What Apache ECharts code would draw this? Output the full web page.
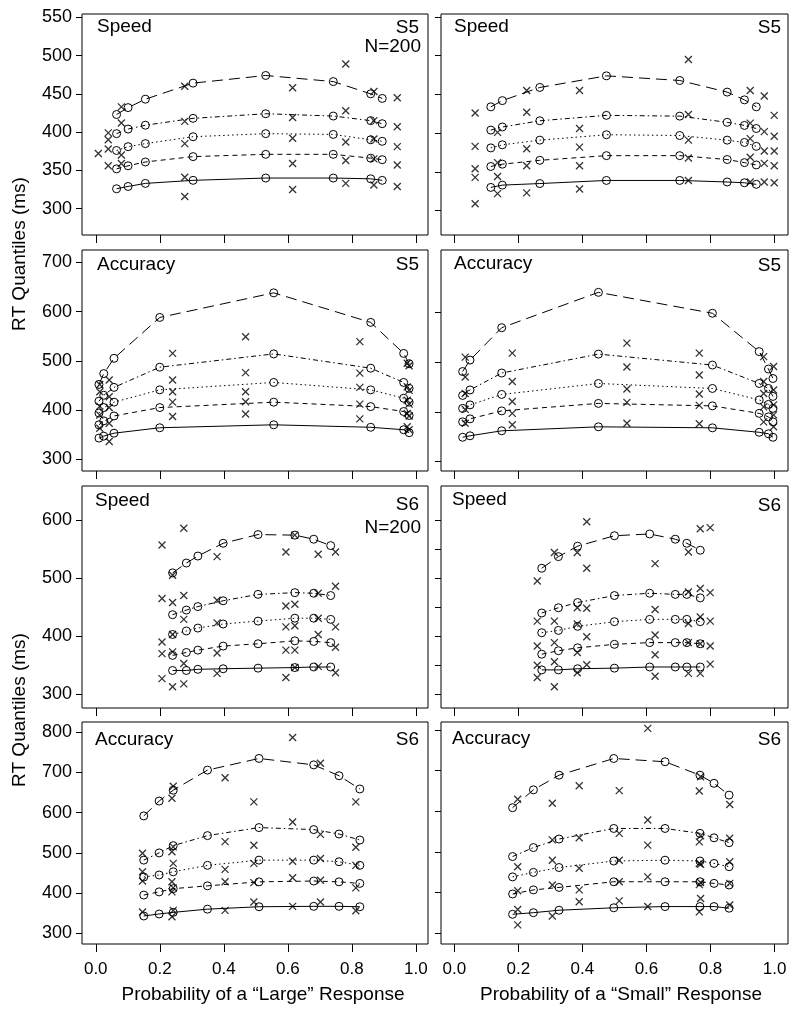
<!DOCTYPE html>
<html><head><meta charset="utf-8">
<script src="https://cdn.jsdelivr.net/npm/echarts@6/dist/echarts.min.js"></script>
<style>html,body{margin:0;padding:0;background:#fff}#c{width:800px;height:1012px}</style>
</head><body><div id="c"></div>
<script>
// ---------- tick labels ----------
const xTicks = [0, 0.2, 0.4, 0.6, 0.8, 1.0];
const yTicksR1 = [300, 350, 400, 450, 500, 550];
const yTicksR2L = [300, 400, 500, 600, 700];
const yTicksR2R = [300, 400, 500, 600];
const yTicksR3L = [300, 400, 500, 600];
const yTicksR3R = [300, 350, 400, 450, 500, 550, 600];
const yTicksR4 = [300, 400, 500, 600, 700, 800];

// ---------- Panel 1: Speed S5, "Large" ----------
const s5SpdL_mx = [0.065, 0.101, 0.155, 0.304, 0.531, 0.742, 0.859, 0.895];
const s5SpdL_m = [
  [326, 329, 333, 337, 340, 340, 339, 337],
  [352, 356, 361, 368, 371, 371, 366, 364],
  [376, 381, 385, 394, 398, 397, 390, 388],
  [398, 404, 409, 418, 424, 421, 415, 411],
  [423, 432, 443, 464, 474, 466, 450, 444]
];
const s5SpdL_dx = [0.008, 0.039, 0.08, 0.278, 0.615, 0.781, 0.869, 0.942];
const s5SpdL_d = [
  [null, 356, 359, 316, 325, 333, 331, 329],
  [null, 378, 370, 341, 359, 363, 365, 357],
  [372, 390, null, 385, 392, 387, 391, 381],
  [null, 399, 412, 414, 419, 428, 415, 407],
  [null, null, 433, 460, 458, 489, 453, 445]
];

// ---------- Panel 2: Speed S5, "Small" ----------
const s5SpdS_mx = [0.114, 0.150, 0.267, 0.475, 0.704, 0.852, 0.906, 0.943];
const s5SpdS_m = [
  [330, 333, 335, 339, 339, 337, 336, 334],
  [357, 360, 365, 371, 371, 366, 362, 359],
  [381, 385, 391, 398, 397, 391, 388, 383],
  [404, 408, 416, 423, 422, 414, 410, 406],
  [434, 442, 459, 474, 468, 453, 443, 434]
];
const s5SpdS_dx = [0.065, 0.135, 0.226, 0.391, 0.731, 0.924, 0.968, 0.999];
const s5SpdS_d = [
  [309, 322, 323, 328, 339, 337, 337, 336],
  [343, 344, 358, 358, 368, 369, 361, 358],
  [354, 362, 380, 382, 391, 393, 377, 377],
  [383, 401, 427, 406, 424, 413, 402, 396],
  [426, null, 455, 455, 495, 455, 448, 423]
];

// ---------- Panel 3: Accuracy S5, "Large" ----------
const s5AccL_mx = [0.010, 0.025, 0.057, 0.200, 0.556, 0.859, 0.962, 0.979];
const s5AccL_m = [
  [343, 347, 353, 364, 370, 365, 360, 354],
  [370, 378, 388, 405, 416, 407, 397, 389],
  [394, 405, 416, 441, 456, 441, 424, 416],
  [418, 430, 446, 487, 514, 485, 456, 444],
  [452, 474, 505, 588, 638, 578, 515, 494]
];
const s5AccL_dx = [0.0125, 0.042, 0.240, 0.468, 0.825, 0.973, 0.979];
const s5AccL_d = [
  [363, 336, 387, 392, 382, 366, 360],
  [390, 373, 416, 417, 412, 393, 388],
  [408, 405, 437, 437, 446, 420, 412],
  [437, 427, 461, 476, 475, 447, 440],
  [452, 461, 515, 549, 539, 495, 490]
];

// ---------- Panel 4: Accuracy S5, "Small" ----------
const s5AccS_mx = [0.026, 0.049, 0.148, 0.450, 0.806, 0.952, 0.981, 0.995];
const s5AccS_m = [
  [349, 352, 362, 370, 368, 359, 356, 349],
  [380, 386, 402, 417, 412, 397, 390, 380],
  [407, 414, 435, 457, 447, 424, 415, 407],
  [433, 444, 478, 516, 494, 457, 447, 431],
  [481, 504, 569, 640, 598, 521, 486, 467]
];
const s5AccS_dx = [0.034, 0.181, 0.539, 0.765, 0.966, 0.997];
const s5AccS_d = [
  [377, 374, 377, 376, 380, 370],
  [405, 397, 419, 413, 410, 394],
  [437, 421, 446, 436, 437, 414],
  [470, 461, 490, 474, 461, 444],
  [510, 518, 538, 518, 511, 491]
];

// ---------- Panel 5: Speed S6, "Large" ----------
const s6SpdL_mx = [0.240, 0.283, 0.319, 0.398, 0.507, 0.622, 0.681, 0.734];
const s6SpdL_m = [
  [341, 341, 343, 344, 345, 346, 347, 347],
  [367, 372, 376, 383, 387, 392, 391, 389],
  [403, 409, 414, 421, 426, 431, 431, 429],
  [437, 445, 451, 461, 472, 475, 474, 470],
  [509, 526, 538, 560, 575, 574, 567, 556]
];
const s6SpdL_dx = [0.207, 0.240, 0.275, 0.379, 0.594, 0.622, 0.695, 0.749];
const s6SpdL_d = [
  [327, 313, 318, 336, 329, 346, 348, 337],
  [370, 373, 353, 371, 376, 376, 403, 381],
  [390, 403, 429, 423, 416, 418, 431, 416],
  [465, 458, 470, 462, 452, 455, 474, 486],
  [557, 505, 586, 537, 545, 574, 541, 545]
];

// ---------- Panel 6: Speed S6, "Small" ----------
const s6SpdS_mx = [0.273, 0.325, 0.385, 0.500, 0.610, 0.690, 0.726, 0.768];
const s6SpdS_m = [
  [342, 342, 344, 345, 347, 347, 347, 347],
  [369, 375, 380, 386, 389, 389, 389, 387],
  [406, 410, 417, 425, 429, 429, 429, 425],
  [440, 449, 458, 470, 474, 472, 472, 466],
  [517, 537, 555, 573, 576, 567, 560, 548]
];
const s6SpdS_dx = [0.259, 0.3125, 0.384, 0.4135, 0.627, 0.731, 0.768, 0.799];
const s6SpdS_d = [
  [329, 313, 337, 351, 331, 336, 336, 352],
  [350, 356, 372, 399, 368, 389, 387, 383],
  [383, 389, 421, 448, 402, 422, 433, 426],
  [426, 426, 449, 517, 446, 476, 482, 475],
  [495, 544, 544, 597, 525, 545, 585, 587]
];

// ---------- Panel 7: Accuracy S6, "Large" ----------
const s6AccL_mx = [0.150, 0.198, 0.242, 0.349, 0.510, 0.681, 0.760, 0.825];
const s6AccL_m = [
  [343, 348, 352, 360, 366, 367, 367, 366],
  [395, 403, 411, 418, 428, 430, 428, 424],
  [440, 445, 453, 469, 482, 482, 478, 469],
  [482, 500, 518, 543, 563, 558, 547, 532],
  [592, 629, 656, 706, 735, 719, 692, 659]
];
const s6AccL_dx = [0.146, 0.238, 0.242, 0.404, 0.494, 0.615, 0.702, 0.8125];
const s6AccL_d = [
  [353, 341, 357, 357, 378, 367, 378, 356],
  [430, 403, 413, 428, 426, 438, 432, 413],
  [453, 428, 474, 459, 474, 479, 486, 469],
  [499, 503, 515, 528, 519, 577, 546, 514],
  [null, 636, 666, 687, 627, 787, 723, 627]
];

// ---------- Panel 8: Accuracy S6, "Small" ----------
const s6AccS_mx = [0.182, 0.247, 0.327, 0.498, 0.658, 0.767, 0.811, 0.858];
const s6AccS_m = [
  [347, 351, 357, 363, 366, 366, 366, 362],
  [397, 407, 413, 427, 427, 427, 423, 419],
  [439, 450, 462, 478, 480, 478, 472, 464],
  [489, 511, 532, 558, 558, 546, 535, 523],
  [609, 653, 689, 730, 722, 689, 669, 640]
];
const s6AccS_dx = [0.198, 0.306, 0.390, 0.515, 0.604, 0.765, 0.769, 0.860];
const s6AccS_d = [
  [321, 343, 378, 380, 366, 353, 386, 370],
  [359, 419, 407, 427, 439, 420, 425, 423],
  [405, 480, 460, 480, 517, 472, 470, 476],
  [464, 530, 535, 546, 579, 525, 540, 534],
  [630, 620, 663, 651, 804, 650, 685, 617]
];

// ---------- layout ----------
const FONT = '"Liberation Sans", Arial, Helvetica, sans-serif';
const L = {left: 82, width: 346, xmin: -0.043, xmax: 1.038};
const R = {left: 441, width: 347, xmin: -0.0416, xmax: 1.042};
const rows = [
  {top: 14, height: 221},
  {top: 250, height: 221},
  {top: 486, height: 222},
  {top: 722, height: 222}
];
const panels = [
  {col: L, row: 0, mx: s5SpdL_mx, m: s5SpdL_m, dx: s5SpdL_dx, d: s5SpdL_d, ymin: 265.6, ymax: 554.3, yt: yTicksR1},
  {col: R, row: 0, mx: s5SpdS_mx, m: s5SpdS_m, dx: s5SpdS_dx, d: s5SpdS_d, ymin: 268.6, ymax: 553.8, yt: yTicksR1},
  {col: L, row: 1, mx: s5AccL_mx, m: s5AccL_m, dx: s5AccL_dx, d: s5AccL_d, ymin: 276.2, ymax: 725, yt: yTicksR2L},
  {col: R, row: 1, mx: s5AccS_mx, m: s5AccS_m, dx: s5AccS_dx, d: s5AccS_d, ymin: 281.3, ymax: 725, yt: yTicksR2R},
  {col: L, row: 2, mx: s6SpdL_mx, m: s6SpdL_m, dx: s6SpdL_dx, d: s6SpdL_d, ymin: 276.4, ymax: 658.6, yt: yTicksR3L},
  {col: R, row: 2, mx: s6SpdS_mx, m: s6SpdS_m, dx: s6SpdS_dx, d: s6SpdS_d, ymin: 276.4, ymax: 658.6, yt: yTicksR3R},
  {col: L, row: 3, mx: s6AccL_mx, m: s6AccL_m, dx: s6AccL_dx, d: s6AccL_d, ymin: 273.3, ymax: 825.7, yt: yTicksR4},
  {col: R, row: 3, mx: s6AccS_mx, m: s6AccS_m, dx: s6AccS_dx, d: s6AccS_d, ymin: 274, ymax: 819.7, yt: yTicksR4}
];
// line styles for quantiles .1 .3 .5 .7 .9
const dashes = ['solid', [5, 4], [1.5, 3], [5, 3, 1.5, 3], [11, 6]];

const grid = [], xAxis = [], yAxis = [], series = [];
panels.forEach((p, i) => {
  const r = rows[p.row];
  grid.push({left: p.col.left, top: r.top, width: p.col.width, height: r.height,
    show: true, borderColor: '#000', borderWidth: 1, backgroundColor: 'transparent'});
  const bottomRow = p.row === 3;
  xAxis.push({type: 'value', gridIndex: i, position: 'bottom', min: p.col.xmin, max: p.col.xmax,
    axisLine: {show: false, onZero: false}, splitLine: {show: false}, minorTick: {show: false},
    axisTick: {show: true, inside: false, customValues: xTicks, length: 8, lineStyle: {color: '#000', width: 1}},
    axisLabel: {show: bottomRow, inside: false, customValues: xTicks, margin: 17, fontSize: 17, color: '#000', fontFamily: FONT,
      formatter: v => v.toFixed(1)}});
  const leftCol = p.col === L;
  yAxis.push({type: 'value', gridIndex: i, position: 'left', min: p.ymin, max: p.ymax,
    axisLine: {show: false, onZero: false}, splitLine: {show: false}, minorTick: {show: false},
    axisTick: {show: true, inside: false, customValues: p.yt, length: 6, lineStyle: {color: '#000', width: 1}},
    axisLabel: {show: leftCol, inside: false, customValues: p.yt, margin: 10, fontSize: 18, color: '#000', fontFamily: FONT}});
  p.m.forEach((qv, q) => {
    series.push({type: 'line', xAxisIndex: i, yAxisIndex: i, silent: true,
      data: p.mx.map((x, j) => [x, qv[j]]),
      symbol: 'circle', symbolSize: 8, showSymbol: true,
      itemStyle: {color: 'transparent', borderColor: '#000', borderWidth: 1},
      lineStyle: {color: '#000', width: 1, type: dashes[q]}, z: 3});
  });
  const pts = [];
  p.d.forEach(qv => qv.forEach((v, j) => { if (v !== null) pts.push([p.dx[j], v]); }));
  series.push({type: 'scatter', xAxisIndex: i, yAxisIndex: i, silent: true, data: pts,
    symbol: 'path://M0,0L10,10M10,0L0,10', symbolSize: 7,
    itemStyle: {color: 'transparent', borderColor: '#000', borderWidth: 1.3}, z: 4});
});

function txt(t, x, y, align, rot) {
  return {type: 'text', x: x, y: y, rotation: rot || 0, silent: true,
    style: {text: t, font: '19px ' + FONT, fill: '#000', textAlign: align, align: align,
      textVerticalAlign: 'middle', verticalAlign: 'middle'}};
}
const graphic = [
  txt('Speed', 97, 27, 'left'), txt('S5', 419, 28, 'right'), txt('N=200', 421, 47, 'right'),
  txt('Speed', 454, 27, 'left'), txt('S5', 781, 28, 'right'),
  txt('Accuracy', 97, 265, 'left'), txt('S5', 419, 265, 'right'),
  txt('Accuracy', 454, 264, 'left'), txt('S5', 781, 266, 'right'),
  txt('Speed', 95, 501, 'left'), txt('S6', 419, 505, 'right'), txt('N=200', 421, 528, 'right'),
  txt('Speed', 452, 500, 'left'), txt('S6', 781, 506, 'right'),
  txt('Accuracy', 95, 740, 'left'), txt('S6', 419, 740, 'right'),
  txt('Accuracy', 452, 739, 'left'), txt('S6', 781, 740, 'right'),
  txt('RT Quantiles (ms)', 20, 254, 'center', Math.PI / 2),
  txt('RT Quantiles (ms)', 20, 710, 'center', Math.PI / 2),
  txt('Probability of a \u201cLarge\u201d Response', 263, 995, 'center'),
  txt('Probability of a \u201cSmall\u201d Response', 621, 995, 'center')
];

const chart = echarts.init(document.getElementById('c'), null, {renderer: 'canvas'});
chart.setOption({animation: false, backgroundColor: '#fff', grid, xAxis, yAxis, series, graphic});
</script>
</body></html>
